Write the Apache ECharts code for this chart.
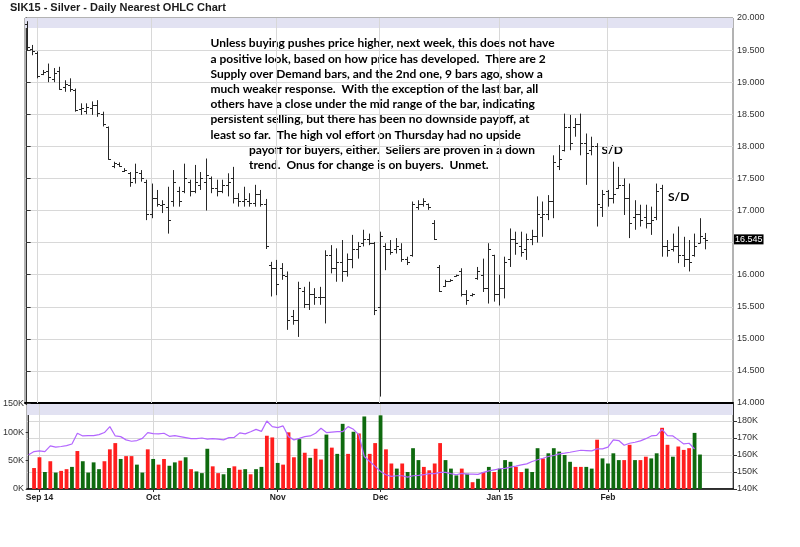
<!DOCTYPE html>
<html>
<head>
<meta charset="utf-8">
<script src="https://cdn.jsdelivr.net/npm/echarts@6/dist/echarts.min.js"></script>
<style>html,body{margin:0;padding:0;background:#fff;}#chart{width:800px;height:547px;}</style>
</head>
<body>
<div id="chart"></div>
<script>
// ---- DATA (bar index 0 = Aug 28 2014 ... 125 = last bar) ----
const opens = [19.90,19.52,19.45,19.12,19.18,19.05,19.18,18.92,18.95,18.88,
18.58,18.55,18.60,18.65,18.50,18.30,17.70,17.72,17.62,17.58,
17.50,17.58,17.45,16.95,17.20,17.08,17.05,17.15,17.30,17.30,
17.45,17.30,17.40,17.45,17.50,17.35,17.30,17.40,17.50,17.20,
17.15,17.15,17.12,17.25,17.10,16.15,16.10,16.10,15.98,15.35,
15.30,15.75,15.55,15.70,15.65,15.65,16.30,16.10,16.20,16.05,
16.25,16.40,16.50,16.55,16.50,15.50,16.45,16.40,16.40,16.40,
16.25,16.30,17.05,17.10,17.10,16.80,16.12,15.82,15.90,15.98,
16.05,15.70,15.68,15.95,16.00,15.80,16.30,15.70,15.80,16.25,
16.55,16.45,16.40,16.55,16.60,16.90,16.95,17.15,17.70,17.95,
18.30,18.30,18.35,18.05,17.95,18.00,17.05,17.30,17.20,17.35,
17.40,17.20,16.90,16.95,16.90,16.80,16.90,17.35,16.45,16.40,
16.45,16.30,16.25,16.30,16.50,16.57];
const highs = [19.95,19.58,19.48,19.19,19.29,19.22,19.24,19.03,19.06,18.90,
18.67,18.67,18.70,18.72,18.54,18.31,17.76,17.75,17.66,17.60,
17.73,17.63,17.48,17.42,17.32,17.16,17.37,17.63,17.37,17.73,
17.48,17.71,17.60,17.81,17.53,17.48,17.48,17.58,17.68,17.27,
17.37,17.27,17.40,17.32,17.18,16.20,16.23,16.18,16.05,15.45,
15.89,15.81,15.89,15.79,15.81,16.38,16.46,16.41,16.54,16.33,
16.62,16.51,16.70,16.64,16.51,16.67,16.49,16.54,16.57,16.49,
16.28,17.14,17.16,17.19,17.11,16.85,16.15,15.92,15.93,16.00,
16.10,15.76,15.71,16.12,16.25,16.49,16.31,16.00,16.28,16.72,
16.67,16.67,16.64,16.70,17.22,17.14,17.24,17.86,18.02,18.51,
18.49,18.44,18.51,18.20,18.15,18.05,17.32,17.32,17.76,17.68,
17.50,17.42,17.16,17.09,17.09,17.06,17.42,17.40,16.54,16.64,
16.75,16.59,16.54,16.64,16.88,16.65];
const lows = [19.50,19.42,19.06,19.11,19.00,19.00,18.88,18.85,18.85,18.54,
18.49,18.50,18.49,18.46,18.31,17.79,17.66,17.68,17.60,17.37,
17.42,17.45,16.85,16.88,17.06,16.96,16.64,17.06,17.06,17.27,
17.22,17.27,17.32,17.00,17.27,17.22,17.27,17.22,17.11,17.06,
17.06,17.06,17.06,17.06,16.40,15.66,15.68,15.92,15.14,15.22,
15.03,15.48,15.45,15.53,15.53,15.24,16.02,15.89,15.89,15.97,
16.10,16.25,16.44,16.46,15.37,14.10,16.07,16.31,16.33,16.20,
16.15,16.28,17.01,17.06,17.01,16.54,15.73,15.81,15.89,15.97,
15.66,15.53,15.66,15.92,15.73,15.55,15.58,15.52,15.63,16.12,
16.31,16.28,16.23,16.46,16.50,16.59,16.85,16.88,17.63,17.92,
17.94,18.15,17.86,17.40,17.86,16.75,16.90,17.06,17.11,17.34,
16.93,16.57,16.70,16.75,16.72,16.62,16.85,16.28,16.28,16.36,
16.18,16.12,16.05,16.28,16.49,16.395];
const closes = [19.55,19.48,19.10,19.16,19.08,19.15,18.90,18.97,18.90,18.57,
18.60,18.62,18.65,18.52,18.35,17.80,17.74,17.70,17.63,17.45,
17.60,17.50,16.95,17.20,17.10,17.10,16.85,17.45,17.15,17.50,
17.30,17.45,17.50,17.55,17.35,17.30,17.40,17.45,17.20,17.15,
17.18,17.12,17.25,17.10,16.45,16.10,15.85,16.00,15.30,15.30,
15.80,15.55,15.70,15.65,15.65,16.30,16.10,16.20,16.05,16.25,
16.40,16.45,16.55,16.50,15.45,16.60,16.40,16.35,16.45,16.25,
16.20,17.10,17.10,17.15,17.05,16.55,15.75,15.90,15.91,15.99,
15.70,15.60,15.70,16.05,15.80,16.40,15.70,15.80,16.20,16.55,
16.50,16.35,16.55,16.60,16.95,16.95,17.15,17.75,17.80,18.30,
18.05,18.35,18.05,17.90,18.00,17.10,17.25,17.20,17.25,17.40,
17.20,16.80,16.95,16.85,16.80,16.85,17.30,16.45,16.38,16.45,
16.30,16.25,16.20,16.45,16.60,16.545];
// volume in thousands (index 0 has no volume bar)
const volumes = [null,37,56,30,49,29,32,35,39,67,
49,29,47,35,49,70,81,53,58,58,
43,29,70,53,43,53,41,47,50,56,
35,31,28,71,40,28,26,37,40,34,
35,26,35,39,94,91,46,43,100,56,
88,64,55,71,52,96,73,62,115,62,
101,98,128,62,81,130,70,45,36,45,
30,72,51,39,33,45,81,51,36,24,
36,27,12,18,30,39,30,36,51,48,
39,30,36,30,72,54,63,72,66,60,
48,39,39,39,36,87,54,45,63,51,
51,78,51,51,57,54,63,108,78,57,
75,69,72,99,60.813];
// 1 = up-volume (green), 0 = down-volume (red)
const volUp = [0,0,0,1,0,1,0,0,1,0,
1,1,1,1,0,0,0,1,0,0,
1,1,0,1,0,0,1,1,0,1,
0,1,1,1,0,0,1,1,0,0,
1,0,1,1,0,0,1,0,0,0,
1,0,1,0,0,1,0,1,1,0,
1,0,1,0,0,1,0,0,1,0,
1,1,1,0,0,0,0,1,1,1,
0,1,0,1,0,1,0,1,1,1,
0,0,1,1,1,0,1,1,1,1,
1,0,0,1,1,0,1,1,1,1,
0,0,1,0,0,1,1,0,0,1,
0,0,0,1,1];
// open interest in thousands
const openInterest = [160.1,162.0,162.4,162.0,165.4,164.6,165.0,165.5,166.5,172.8,
171.2,171.4,171.4,172.0,173.2,176.7,171.2,170.8,168.9,168.1,
168.5,169.8,173.2,172.6,172.4,172.8,171.0,171.4,170.8,170.2,
169.6,169.6,170.0,169.3,169.6,169.3,168.9,170.2,170.4,173.0,
172.4,173.7,175.1,173.9,180.0,176.7,176.1,177.1,170.8,168.9,
169.8,170.8,171.2,172.8,175.7,173.2,173.5,173.7,173.7,176.7,
175.1,171.8,159.1,156.2,153.3,150.3,148.4,147.4,147.8,147.8,
147.0,147.8,148.0,148.4,149.0,149.0,149.8,149.8,149.0,148.4,
149.2,148.8,148.8,148.6,149.8,150.7,151.3,151.9,152.1,152.9,
153.5,154.2,154.8,156.2,157.2,158.1,159.1,159.7,160.7,161.1,
161.6,162.2,162.8,162.6,162.4,163.6,163.6,164.6,168.9,168.5,
165.7,166.9,167.5,168.3,169.6,171.2,171.6,175.1,171.4,171.2,
168.9,166.5,166.9,163.527];
const monthLabels = ['Sep 14','Oct','Nov','Dec','Jan 15','Feb'];
const monthStartIndex = [2,23,46,65,87,107];
const priceTicks = {min:14, max:20, step:0.5};
const annotationLines = [
 'Unless buying pushes price higher, next week, this does not have',
 'a positive look, based on how price has developed.  There are 2',
 'Supply over Demand bars, and the 2nd one, 9 bars ago, show a',
 'much weaker response.  With the exception of the last bar, all',
 'others have a close under the mid range of the bar, indicating',
 'persistent selling, but there has been no downside payoff, at',
 'least so far.  The high vol effort on Thursday had no upside',
 'payoff for buyers, either.  Sellers are proven in a down',
 'trend.  Onus for change is on buyers.  Unmet.'
];
const titleText = 'SIK15 - Silver - Daily Nearest OHLC Chart';

// ---- CHART ----
const FONT = '"Liberation Sans", Arial, sans-serif';
const NOTE_FONT = 'Lato, "Open Sans", sans-serif';
const RED = '#ff1f1f', GREEN = '#0f6a0f', PURPLE = '#b366ff', BAR = '#262626', GRIDC = '#d8d8d8';
const last = closes.length - 1;
const lastVol = volumes[volumes.length - 1];
const lastOI = openInterest[openInterest.length - 1];
const X_MIN = -0.3, X_MAX = 130.1;

const priceData = opens.map((o, i) => [i, o, highs[i], lows[i], closes[i]]);
const volData = [];
volumes.forEach((v, i) => { if (v != null) volData.push({value: [i, v * 1000], itemStyle: {color: volUp[i] ? GREEN : RED}}); });
const oiData = openInterest.map((v, i) => [i, v * 1000]);
const monthLinesData = monthStartIndex.map(i => ({xAxis: i}));

function renderOHLC(params, api) {
  const i = api.value(0);
  const ph = api.coord([i, api.value(2)]);
  const pl = api.coord([i, api.value(3)]);
  const po = api.coord([i, api.value(1)]);
  const pc = api.coord([i, api.value(4)]);
  const x = Math.round(ph[0]) + 0.5;
  const t = 2.5;
  const st = {stroke: BAR, lineWidth: 1};
  return {type: 'group', children: [
    {type: 'line', shape: {x1: x, y1: ph[1], x2: x, y2: pl[1]}, style: st},
    {type: 'line', shape: {x1: x - t, y1: Math.round(po[1]) + 0.5, x2: x, y2: Math.round(po[1]) + 0.5}, style: st},
    {type: 'line', shape: {x1: x, y1: Math.round(pc[1]) + 0.5, x2: x + t, y2: Math.round(pc[1]) + 0.5}, style: st}
  ]};
}

const fmtK = n => Math.round(n).toLocaleString('en-US');
const graphics = [
  {type: 'text', x: 10, y: 8, style: {text: titleText, font: 'bold 11px ' + FONT, fill: '#1a1a1a', verticalAlign: 'middle'}},
  {type: 'rect', shape: {x: 29, y: 20.5, width: 5, height: 5}, style: {fill: '#000'}},
  {type: 'text', x: 38, y: 23.5, style: {text: 'Op:' + opens[last].toFixed(3) + ', Hi:' + highs[last].toFixed(3) + ', Lo:' + lows[last].toFixed(3) + ', Cl:' + closes[last].toFixed(3), font: '8.5px ' + FONT, fill: '#333', verticalAlign: 'middle'}},
  {type: 'rect', shape: {x: 29, y: 408, width: 5, height: 5}, style: {fill: GREEN, stroke: '#333', lineWidth: 0.5}},
  {type: 'text', x: 38, y: 411, style: {text: 'Vol: ' + fmtK(lastVol * 1000), font: '9px ' + FONT, fill: '#333', verticalAlign: 'middle'}},
  {type: 'rect', shape: {x: 106, y: 408, width: 5, height: 5}, style: {fill: '#9933ff', stroke: '#333', lineWidth: 0.5}},
  {type: 'text', x: 115.5, y: 411, style: {text: 'Open Interest: ' + fmtK(lastOI * 1000), font: '9px ' + FONT, fill: '#333', verticalAlign: 'middle'}},
  {type: 'text', x: 601.5, y: 150, style: {text: 'S/D', font: 'bold 12px ' + NOTE_FONT, fill: '#000', verticalAlign: 'middle'}},
  {type: 'text', x: 668, y: 197, style: {text: 'S/D', font: 'bold 12px ' + NOTE_FONT, fill: '#000', verticalAlign: 'middle'}}
];
annotationLines.forEach((line, k) => {
  graphics.push({type: 'text', x: k < 7 ? 210.5 : 249, y: 43.5 + k * 15.2,
    style: {text: line, font: 'bold 12px ' + NOTE_FONT, fill: '#000', verticalAlign: 'middle'}});
});

const option = {
  animation: false,
  backgroundColor: '#fff',
  grid: [
    {left: 25, right: 67, top: 18, height: 385, show: true, borderColor: '#666', borderWidth: 1},
    {left: 25, right: 67, top: 404, height: 85, show: true, borderColor: '#666', borderWidth: 1}
  ],
  xAxis: [
    {type: 'value', gridIndex: 0, min: X_MIN, max: X_MAX,
     axisLine: {show: true, onZero: false, lineStyle: {color: '#000', width: 2}},
     axisTick: {show: false}, axisLabel: {show: false}, splitLine: {show: false}},
    {type: 'value', gridIndex: 1, min: X_MIN, max: X_MAX,
     axisLine: {show: true, onZero: false, lineStyle: {color: '#000', width: 1.5}},
     axisTick: {show: true, customValues: monthStartIndex, length: 3, lineStyle: {color: '#333'}},
     axisLabel: {show: true, customValues: monthStartIndex,
       formatter: v => monthLabels[monthStartIndex.indexOf(Math.round(v))] || '',
       fontSize: 8.5, fontWeight: 'bold', color: '#222', margin: 4, fontFamily: FONT},
     splitLine: {show: false}}
  ],
  yAxis: [
    {type: 'value', gridIndex: 0, position: 'right', min: priceTicks.min, max: priceTicks.max, interval: priceTicks.step,
     axisLine: {show: true, lineStyle: {color: '#333'}},
     axisTick: {show: true, length: 4, lineStyle: {color: '#333'}},
     axisLabel: {formatter: v => (Math.abs(v - closes[last]) < 0.2 ? '' : v.toFixed(3)), fontSize: 9, color: '#333', margin: 4, fontFamily: FONT},
     splitLine: {show: true, lineStyle: {color: GRIDC, width: 1}}},
    {type: 'value', gridIndex: 1, position: 'left', min: 0, max: 150000, interval: 50000,
     axisLine: {show: true, lineStyle: {color: '#333'}},
     axisTick: {show: true, length: 3, lineStyle: {color: '#333'}},
     axisLabel: {formatter: v => (v / 1000) + 'K', fontSize: 9, color: '#333', margin: 3, fontFamily: FONT},
     splitLine: {show: false}},
    {type: 'value', gridIndex: 1, position: 'right', min: 140000, max: 190000, interval: 10000,
     axisLine: {show: true, lineStyle: {color: '#333'}},
     axisTick: {show: true, length: 4, lineStyle: {color: '#333'}},
     axisLabel: {formatter: v => (v / 1000) + 'K', showMaxLabel: false, fontSize: 9, color: '#333', margin: 4, fontFamily: FONT},
     splitLine: {show: true, lineStyle: {color: GRIDC, width: 1}}}
  ],
  series: [
    {type: 'custom', name: 'OHLC', xAxisIndex: 0, yAxisIndex: 0, z: 3,
     data: priceData, renderItem: renderOHLC, encode: {x: 0, y: [1, 2, 3, 4]}, clip: true,
     markArea: {silent: true, z: 1, itemStyle: {color: '#e2e2f2'}, data: [[{yAxis: 19.845}, {yAxis: 20}]]},
     markLine: {silent: true, symbol: 'none', z: 1, label: {show: false},
       lineStyle: {color: GRIDC, width: 1, type: 'solid'},
       data: monthLinesData.concat([{yAxis: closes[last], lineStyle: {color: 'rgba(0,0,0,0)', width: 1},
         label: {show: true, position: 'end', formatter: closes[last].toFixed(3), color: '#fff', backgroundColor: '#000',
           padding: [1, 1, 0, 1], fontSize: 9, fontFamily: FONT, distance: 1}}])}
    },
    {type: 'bar', name: 'Vol', xAxisIndex: 1, yAxisIndex: 1, barWidth: 3.8, z: 2, data: volData,
     markLine: {silent: true, symbol: 'none', z: 1, label: {show: false},
       lineStyle: {color: GRIDC, width: 1, type: 'solid'}, data: monthLinesData}},
    {type: 'line', name: 'Open Interest', xAxisIndex: 1, yAxisIndex: 2, z: 4, data: oiData,
     showSymbol: false, symbol: 'none', lineStyle: {color: PURPLE, width: 1.2}, itemStyle: {color: PURPLE},
     markArea: {silent: true, z: 1, itemStyle: {color: '#e2e2f2'}, data: [[{yAxis: 183500}, {yAxis: 190000}]]}}
  ],
  graphic: graphics
};
const chart = echarts.init(document.getElementById('chart'));
chart.setOption(option);
</script>
</body>
</html>
